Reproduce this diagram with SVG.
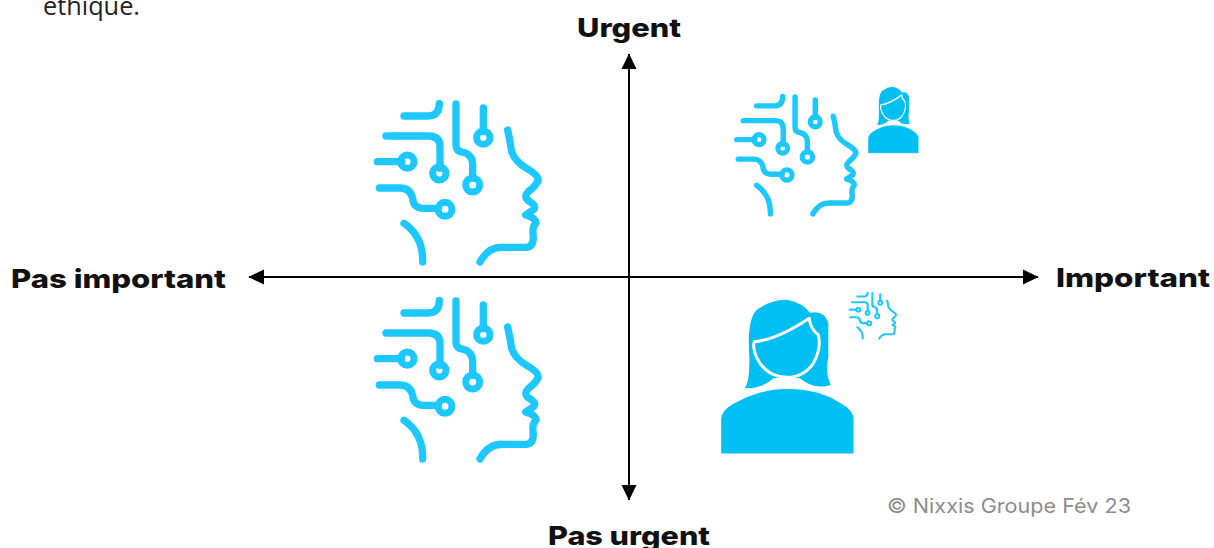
<svg xmlns="http://www.w3.org/2000/svg" xmlns:xlink="http://www.w3.org/1999/xlink" width="1214" height="548" viewBox="0 0 1214 548">
<style>
.lbl{font-family:Inter,"Open Sans","Liberation Sans",sans-serif;font-weight:800;fill:#111;font-size:26px}
.body{font-family:"Open Sans","Liberation Sans",sans-serif;font-size:25px;fill:#222}
.copy{font-family:Inter,"Open Sans","Liberation Sans",sans-serif;font-weight:400;font-size:20px;fill:#8c8c8c}
.ai{fill:none;stroke:#1cc8ff;stroke-width:22;stroke-linecap:round;stroke-linejoin:round}
.ai circle{stroke-width:21}
.axis{stroke:#000;stroke-width:2;fill:none}
</style>
<defs>
<marker id="ah" markerUnits="userSpaceOnUse" markerWidth="16" markerHeight="16" refX="15" refY="8" orient="auto-start-reverse"><path d="M0 0.500L15.500 8L0 15.500Z" fill="#000"/></marker>
<g id="head" class="ai">
<path d="M132 78H205Q238 78 238 40"/>
<path d="M78 138H205Q240 138 240 170V235"/>
<path d="M52 215H125"/>
<path d="M288 42V165Q288 185 310 187Q338 195 338 225V265"/>
<path d="M370 54V125"/>
<path d="M58 294H120Q150 294 158 325Q160 352 185 355H235"/>
<path d="M132 400Q190 440 188 516"/>
<path d="M443 120Q450 150 455 185Q465 215 500 235Q535 255 535 270Q530 285 505 305Q490 320 505 332Q530 345 522 358L497 375Q530 385 528 400Q515 410 520 440Q520 470 500 472H430Q385 470 360 516"/>
<circle cx="238" cy="250" r="20"/>
<circle cx="142" cy="215" r="20"/>
<circle cx="338" cy="285" r="21"/>
<circle cx="370" cy="143" r="20"/>
<circle cx="255" cy="358" r="21"/>
</g>
<g id="person">
<path fill="#00bff3" d="M105 295Q120 270 118 200Q110 90 140 60Q190 25 235 30Q280 40 300 68Q345 60 355 100V200Q345 250 362 285Q310 300 270 265L232 262L190 265Q160 295 105 295Z"/>
<path fill="#00bff3" stroke="#fff" stroke-width="9" stroke-linejoin="round" d="M133 155Q200 150 298 85Q300 115 325 135Q335 175 310 220Q280 262 232 262Q180 262 150 220Q125 180 133 155Z"/>
<path fill="#00bff3" stroke="#fff" stroke-width="3" d="M32 492V385Q35 360 70 340Q150 295 230 295Q330 295 395 340Q430 360 432 385V492Z"/>
</g>
</defs>
<rect width="1214" height="548" fill="#fff"/>
<g id="connectors">
<path class="axis" d="M629 500V54" marker-start="url(#ah)" marker-end="url(#ah)"/>
<path class="axis" d="M249 277H1038" marker-start="url(#ah)" marker-end="url(#ah)"/>
</g>
<g id="note"><text class="body" x="43" y="15" textLength="97" lengthAdjust="spacingAndGlyphs">ethique.</text></g>
<g id="label-urgent"><text class="lbl" x="577" y="37" textLength="104" lengthAdjust="spacingAndGlyphs">Urgent</text></g>
<g id="label-pas-important"><text class="lbl" x="11" y="288" textLength="215" lengthAdjust="spacingAndGlyphs">Pas important</text></g>
<g id="label-important"><text class="lbl" x="1056" y="287" textLength="154" lengthAdjust="spacingAndGlyphs">Important</text></g>
<g id="label-pas-urgent"><text class="lbl" x="548" y="545" textLength="162" lengthAdjust="spacingAndGlyphs">Pas urgent</text></g>
<g id="copyright"><text class="copy" x="887" y="513" textLength="244" lengthAdjust="spacingAndGlyphs">© Nixxis Groupe Fév 23</text></g>
<g id="quad-top-left"><use href="#head" transform="translate(360 90) scale(.3333)"/></g>
<g id="quad-bottom-left"><use href="#head" transform="translate(360 287) scale(.3333)"/></g>
<g id="quad-top-right">
<use href="#head" transform="translate(724 86.600) scale(.2467)"/>
<use href="#person" transform="translate(864 82.700) scale(.1267 .1435)"/>
</g>
<g id="quad-bottom-right">
<use href="#person" transform="translate(710 290) scale(.3333)"/>
<use href="#head" transform="translate(844.700 289) scale(.096)"/>
</g>
</svg>
